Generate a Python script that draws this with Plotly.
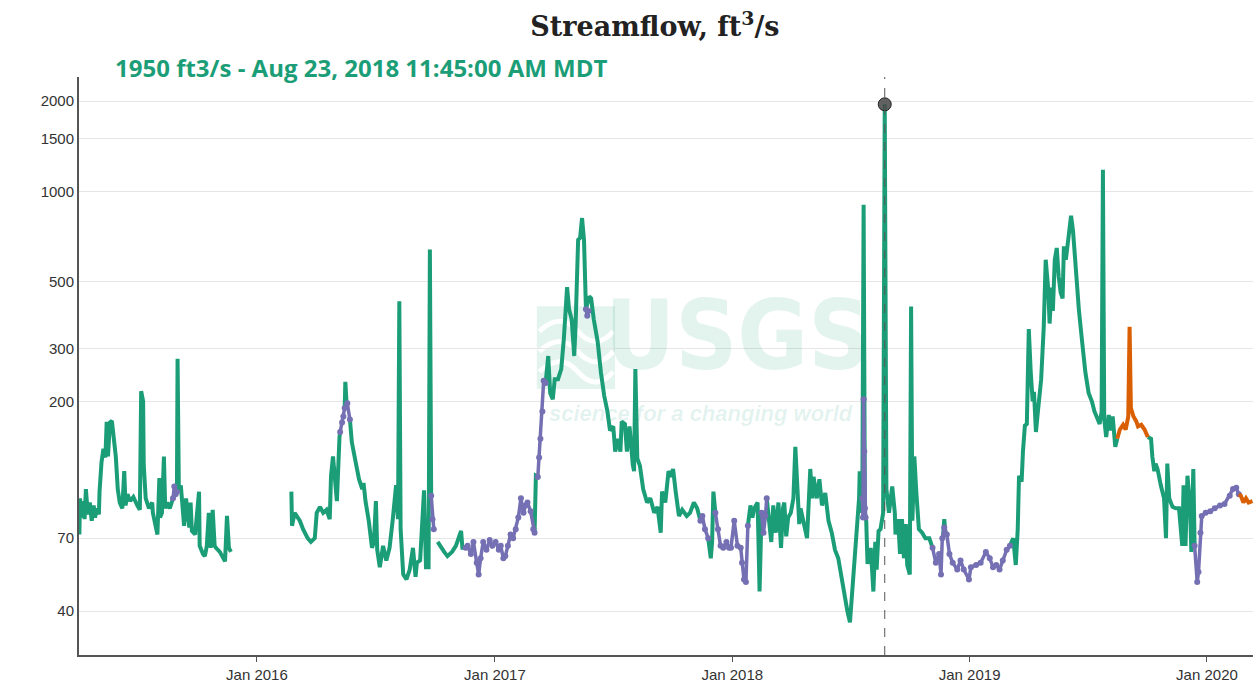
import plotly.graph_objects as go

# ---------------- data ----------------
# Discharge, ft3/s ; None marks a break in the line
green_2015 = [
    ("2015-04-03", 72), ("2015-04-04", 95), ("2015-04-06", 82), ("2015-04-08", 93), ("2015-04-11", 81),
    ("2015-04-13", 102), ("2015-04-16", 84), ("2015-04-19", 92), ("2015-04-22", 80), ("2015-04-25", 90),
    ("2015-04-27", 82), ("2015-04-30", 88), ("2015-05-03", 84),
    ("2015-05-04", 100), ("2015-05-07", 125), ("2015-05-10", 139), ("2015-05-13", 130), ("2015-05-15", 171),
    ("2015-05-17", 131), ("2015-05-20", 170), ("2015-05-23", 172), ("2015-05-26", 150), ("2015-05-29", 131),
    ("2015-06-01", 102), ("2015-06-04", 92), ("2015-06-08", 88), ("2015-06-11", 117), ("2015-06-13", 90),
    ("2015-06-16", 98), ("2015-06-20", 93), ("2015-06-25", 96), ("2015-07-01", 90), ("2015-07-05", 87),
    ("2015-07-07", 216), ("2015-07-10", 200), ("2015-07-11", 122), ("2015-07-14", 95), ("2015-07-19", 88),
    ("2015-07-24", 92), ("2015-07-25", 85), ("2015-07-28", 78), ("2015-08-01", 72), ("2015-08-04", 111),
    ("2015-08-05", 82), ("2015-08-08", 85), ("2015-08-11", 131), ("2015-08-13", 88), ("2015-08-16", 92),
    ("2015-08-20", 88), ("2015-08-25", 95), ("2015-08-27", None), ("2015-08-31", 100), ("2015-09-01", 277),
    ("2015-09-03", 100), ("2015-09-06", 105), ("2015-09-11", 77), ("2015-09-14", 95), ("2015-09-19", 76),
    ("2015-09-21", 92), ("2015-09-23", 74), ("2015-09-28", 72), ("2015-10-04", 100), ("2015-10-05", 66),
    ("2015-10-10", 62), ("2015-10-13", 61), ("2015-10-16", 66), ("2015-10-19", 85), ("2015-10-22", 65),
    ("2015-10-25", 87), ("2015-10-28", 66), ("2015-10-30", 65), ("2015-11-05", 63), ("2015-11-10", 60),
    ("2015-11-13", 58.6), ("2015-11-16", 83), ("2015-11-19", 65), ("2015-11-22", 63),
    ("2016-01-01", None),
]

green_2016 = [
    ("2016-02-23", 100), ("2016-02-24", 77), ("2016-02-28", 85), ("2016-03-03", 82), ("2016-03-07", 80),
    ("2016-03-12", 75), ("2016-03-19", 70), ("2016-03-24", 68), ("2016-03-30", 70), ("2016-04-02", 85),
    ("2016-04-07", 89), ("2016-04-12", 85), ("2016-04-17", 87), ("2016-04-22", 81), ("2016-04-24", 113),
    ("2016-04-27", 131), ("2016-05-01", 97), ("2016-05-03", 93), ("2016-05-07", 152), ("2016-05-08", 158),
    ("2016-05-10", None), ("2016-05-15", 190), ("2016-05-16", 232), ("2016-05-18", 195), ("2016-05-20", None),
    ("2016-05-23", 174), ("2016-05-26", 146), ("2016-06-01", 125), ("2016-06-06", 110), ("2016-06-11", 102),
    ("2016-06-13", 107), ("2016-06-16", 93), ("2016-06-21", 80), ("2016-06-26", 65), ("2016-06-29", 68),
    ("2016-07-02", 93), ("2016-07-04", 64), ("2016-07-08", 56), ("2016-07-13", 66), ("2016-07-18", 59),
    ("2016-07-23", 65), ("2016-07-28", 81), ("2016-08-02", 105), ("2016-08-05", 81), ("2016-08-07", 431),
    ("2016-08-09", 75), ("2016-08-13", 53), ("2016-08-18", 51), ("2016-08-23", 55), ("2016-08-28", 65),
    ("2016-09-01", 52), ("2016-09-03", 58), ("2016-09-08", 59), ("2016-09-14", 101), ("2016-09-17", 56),
    ("2016-09-21", 56), ("2016-09-23", 640), ("2016-09-25", 97), ("2016-09-27", None), ("2016-10-05", 68),
    ("2016-10-10", 65), ("2016-10-15", 63), ("2016-10-20", 61), ("2016-10-27", 63), ("2016-11-02", 66),
    ("2016-11-10", 74), ("2016-11-12", 65), ("2016-11-17", 65), ("2016-11-20", None),
]

green_2017 = [
    ("2017-03-03", 73), ("2017-03-05", 113), ("2017-03-08", 112), ("2017-03-10", None), ("2017-03-20", 230),
    ("2017-03-24", 283), ("2017-03-27", 213), ("2017-03-31", 203), ("2017-04-03", 237), ("2017-04-08", 237),
    ("2017-04-13", 256), ("2017-04-17", 323), ("2017-04-22", 480), ("2017-04-25", 405), ("2017-04-29", 375),
    ("2017-05-03", 283), ("2017-05-05", 354), ("2017-05-09", 690), ("2017-05-12", 700), ("2017-05-15", 815),
    ("2017-05-18", 690), ("2017-05-21", 405), ("2017-05-26", 447), ("2017-05-29", 440), ("2017-06-02", 375),
    ("2017-06-08", 316), ("2017-06-13", 250), ("2017-06-18", 209), ("2017-06-23", 185), ("2017-06-27", 160),
    ("2017-07-02", 165), ("2017-07-05", 136), ("2017-07-09", 150), ("2017-07-13", 136), ("2017-07-15", 171),
    ("2017-07-20", 168), ("2017-07-23", 136), ("2017-07-27", 165), ("2017-08-01", 123), ("2017-08-03", 117),
    ("2017-08-05", 256), ("2017-08-08", 129), ("2017-08-12", 122), ("2017-08-17", 102), ("2017-08-23", 92),
    ("2017-08-28", 95), ("2017-09-03", 85), ("2017-09-08", 89), ("2017-09-13", 73), ("2017-09-15", 100),
    ("2017-09-20", 92), ("2017-09-25", 117), ("2017-09-29", 112), ("2017-10-02", 119), ("2017-10-06", 100),
    ("2017-10-11", 83), ("2017-10-16", 87), ("2017-10-23", 83), ("2017-10-28", 85), ("2017-11-03", 92),
    ("2017-11-08", 88), ("2017-11-13", 80), ("2017-11-15", None), ("2017-11-25", 70), ("2017-11-29", 60),
    ("2017-12-01", 68), ("2017-12-03", 100), ("2017-12-06", 85), ("2017-12-08", None),
]

green_2018 = [
    ("2018-01-25", 77), ("2018-01-29", 90), ("2018-02-01", 82), ("2018-02-04", 88), ("2018-02-09", 92),
    ("2018-02-12", 46.5), ("2018-02-15", 85), ("2018-02-17", None), ("2018-02-23", 95), ("2018-03-02", 68),
    ("2018-03-05", 90), ("2018-03-09", 73), ("2018-03-13", 92), ("2018-03-15", 70), ("2018-03-17", 65),
    ("2018-03-20", 88), ("2018-03-22", 92), ("2018-03-25", 71), ("2018-03-28", 82),
    ("2018-04-01", 85), ("2018-04-05", 95), ("2018-04-08", 141), ("2018-04-11", 95), ("2018-04-14", 78),
    ("2018-04-16", 88), ("2018-04-21", 77), ("2018-04-26", 70), ("2018-05-01", 119), ("2018-05-04", 95),
    ("2018-05-06", 112), ("2018-05-11", 95), ("2018-05-15", 110), ("2018-05-19", 90), ("2018-05-24", 99),
    ("2018-05-29", 80), ("2018-06-03", 73), ("2018-06-08", 64), ("2018-06-13", 60), ("2018-06-18", 51),
    ("2018-06-23", 44), ("2018-06-27", 40), ("2018-07-01", 36.7), ("2018-07-04", 45), ("2018-07-08", 58),
    ("2018-07-11", 75), ("2018-07-15", 95), ("2018-07-16", 117), ("2018-07-18", 85), ("2018-07-20", 95),
    ("2018-07-22", 903), ("2018-07-24", 85),
    ("2018-07-26", 80), ("2018-07-28", 57.5), ("2018-08-02", 65), ("2018-08-06", 46.5), ("2018-08-09", 68),
    ("2018-08-11", 55), ("2018-08-14", 74), ("2018-08-17", 75), ("2018-08-21", 85), ("2018-08-23 11:45", 1950),
    ("2018-08-26", 102), ("2018-08-30", 85), ("2018-09-04", 104), ("2018-09-08", 85), ("2018-09-09", 72),
    ("2018-09-13", 81), ("2018-09-16", 62), ("2018-09-19", 81), ("2018-09-22", 60), ("2018-09-25", 78),
    ("2018-09-27", 57), ("2018-10-01", 53), ("2018-10-03", 414), ("2018-10-05", 80), ("2018-10-08", 131),
    ("2018-10-11", 100), ("2018-10-15", 75), ("2018-10-20", 73), ("2018-10-25", 70), ("2018-10-31", 70),
    ("2018-11-05", 65), ("2018-11-07", None), ("2018-11-21", 70), ("2018-11-23", 81), ("2018-11-25", 72),
    ("2018-11-27", None),
]

green_2019 = [
    ("2019-03-04", 66), ("2019-03-09", 70), ("2019-03-13", 57), ("2019-03-16", 75), ("2019-03-18", 113),
    ("2019-03-22", 108), ("2019-03-24", 136), ("2019-03-27", 166), ("2019-03-30", 168), ("2019-04-02", 348),
    ("2019-04-05", 250), ("2019-04-08", 200), ("2019-04-10", 215), ("2019-04-13", 158), ("2019-04-16", 185),
    ("2019-04-21", 236), ("2019-04-25", 354), ("2019-04-28", 592), ("2019-05-02", 470), ("2019-05-04", 363),
    ("2019-05-07", 478), ("2019-05-09", 400), ("2019-05-12", 592), ("2019-05-15", 648), ("2019-05-18", 520),
    ("2019-05-21", 460), ("2019-05-24", 440), ("2019-05-26", 656), ("2019-05-29", 592), ("2019-06-03", 765),
    ("2019-06-06", 830), ("2019-06-09", 740), ("2019-06-13", 550), ("2019-06-18", 404), ("2019-06-23", 316),
    ("2019-06-28", 250), ("2019-07-03", 213), ("2019-07-08", 200), ("2019-07-12", 185), ("2019-07-16", 175),
    ("2019-07-20", 168), ("2019-07-23", 185), ("2019-07-25", 1180), ("2019-07-27", 175), ("2019-07-30", 152),
    ("2019-08-03", 180), ("2019-08-05", 160), ("2019-08-09", 178), ("2019-08-13", 141), ("2019-08-16", 150),
    ("2019-08-18", None), ("2019-10-02", 152), ("2019-10-07", 150), ("2019-10-09", 131), ("2019-10-12", 117),
    ("2019-10-14", 124), ("2019-10-17", 119), ("2019-10-22", 105), ("2019-10-27", 95), ("2019-10-30", 70),
    ("2019-11-01", 124), ("2019-11-04", 95), ("2019-11-09", 89), ("2019-11-14", 88), ("2019-11-19", 88),
    ("2019-11-24", 66), ("2019-11-26", 105), ("2019-11-29", 66), ("2019-12-02", 113), ("2019-12-06", 89),
    ("2019-12-08", 63), ("2019-12-11", 119), ("2019-12-13", 66),
]

# estimated values (purple)
purple_flow = [
    ("2015-08-25", 95), ("2015-08-27", 104), ("2015-08-29", 98), ("2015-08-31", 100), ("2015-09-02", None),
    ("2016-05-08", 158), ("2016-05-11", 170), ("2016-05-13", 178), ("2016-05-15", 190), ("2016-05-19", 197),
    ("2016-05-23", 174), ("2016-05-25", None),
    ("2016-09-25", 97), ("2016-09-27", 81), ("2016-09-29", 75), ("2016-10-01", None),
    ("2016-11-17", 65), ("2016-11-20", 66), ("2016-11-25", 62), ("2016-11-29", 68), ("2016-12-04", 58),
    ("2016-12-07", 53), ("2016-12-10", 60), ("2016-12-14", 68), ("2016-12-19", 64), ("2016-12-24", 69),
    ("2016-12-28", 66), ("2017-01-02", 68), ("2017-01-07", 64), ("2017-01-10", 66), ("2017-01-14", 60),
    ("2017-01-17", 61), ("2017-01-21", 66), ("2017-01-25", 72), ("2017-01-29", 70), ("2017-02-02", 75),
    ("2017-02-06", 82), ("2017-02-10", 95), ("2017-02-14", 85), ("2017-02-17", 90), ("2017-02-20", 92),
    ("2017-02-25", 86), ("2017-03-01", 75), ("2017-03-03", 73), ("2017-03-05", None),
    ("2017-03-08", 112), ("2017-03-10", 130), ("2017-03-12", 150), ("2017-03-15", 185), ("2017-03-17", 234),
    ("2017-03-20", 230), ("2017-03-22", None),
    ("2017-05-21", 405), ("2017-05-23", 385), ("2017-05-25", 400), ("2017-05-27", None),
    ("2017-11-13", 80), ("2017-11-16", 83), ("2017-11-20", 75), ("2017-11-25", 70), ("2017-11-27", None),
    ("2017-12-06", 85), ("2017-12-10", 75), ("2017-12-14", 66), ("2017-12-18", 65), ("2017-12-23", 68),
    ("2017-12-27", 65), ("2017-12-30", 65), ("2018-01-04", 80), ("2018-01-09", 66), ("2018-01-14", 65),
    ("2018-01-16", 58), ("2018-01-19", 51), ("2018-01-22", 50), ("2018-01-25", 77), ("2018-01-27", None),
    ("2018-02-15", 85), ("2018-02-18", 73), ("2018-02-21", 83), ("2018-02-23", 95), ("2018-02-25", None),
    ("2018-07-20", 95), ("2018-07-21", 82), ("2018-07-22", 203), ("2018-07-23", 136), ("2018-07-24", 88),
    ("2018-07-25", 82), ("2018-07-27", None),
    ("2018-11-05", 65), ("2018-11-10", 58), ("2018-11-15", 62), ("2018-11-18", 53), ("2018-11-20", 70),
    ("2018-11-23", 76), ("2018-11-27", 72), ("2018-12-01", 62), ("2018-12-06", 58), ("2018-12-13", 55),
    ("2018-12-18", 59), ("2018-12-23", 55), ("2018-12-31", 51), ("2019-01-03", 56), ("2019-01-11", 57),
    ("2019-01-18", 58), ("2019-01-26", 63), ("2019-02-01", 60), ("2019-02-06", 56), ("2019-02-11", 57),
    ("2019-02-16", 55), ("2019-02-21", 59), ("2019-02-27", 64), ("2019-03-04", 66), ("2019-03-06", None),
    ("2019-12-13", 66), ("2019-12-17", 50), ("2019-12-19", 54), ("2019-12-22", 73), ("2019-12-24", 83),
    ("2019-12-30", 85), ("2020-01-06", 86), ("2020-01-13", 88), ("2020-01-21", 90), ("2020-01-28", 91),
    ("2020-02-05", 97), ("2020-02-10", 102), ("2020-02-15", 103), ("2020-02-19", 98),
]

# provisional values (orange)
orange_flow = [
    ("2019-08-16", 150), ("2019-08-20", 161), ("2019-08-25", 167), ("2019-08-29", 161), ("2019-09-02", 178),
    ("2019-09-04", 354), ("2019-09-06", 190), ("2019-09-10", 178), ("2019-09-14", 172), ("2019-09-17", 165),
    ("2019-09-22", 167), ("2019-09-27", 161), ("2019-10-02", 152), ("2019-10-04", None),
    ("2020-02-19", 98), ("2020-02-22", 97), ("2020-02-26", 92), ("2020-03-01", 95), ("2020-03-05", 92),
    ("2020-03-11", 93),
]

selected_time = "2018-08-23 11:45"
selected_value = 1950
selected_label = "1950 ft3/s - Aug 23, 2018 11:45:00 AM MDT"

y_tick_values = [40, 70, 200, 300, 500, 1000, 1500, 2000]
x_tick_values = ["2016-01-01", "2017-01-01", "2018-01-01", "2019-01-01", "2020-01-01"]
x_tick_labels = ["Jan 2016", "Jan 2017", "Jan 2018", "Jan 2019", "Jan 2020"]

GREEN = "#1b9e77"
PURPLE = "#7570b3"
ORANGE = "#d95f02"

green_flow = green_2015 + green_2016 + green_2017 + green_2018 + green_2019


def split(pairs):
    return [p[0] for p in pairs], [p[1] for p in pairs]


fig = go.Figure()

gx, gy = split(green_flow)
fig.add_trace(go.Scatter(x=gx, y=gy, mode="lines", line=dict(color=GREEN, width=4),
                         connectgaps=False, hoverinfo="x+y", showlegend=False))

px_, py_ = split(purple_flow)
fig.add_trace(go.Scatter(x=px_, y=py_, mode="lines+markers", line=dict(color=PURPLE, width=3.5),
                         marker=dict(color=PURPLE, size=6), connectgaps=False, showlegend=False))

ox, oy = split(orange_flow)
fig.add_trace(go.Scatter(x=ox, y=oy, mode="lines", line=dict(color=ORANGE, width=4),
                         connectgaps=False, showlegend=False))

fig.add_trace(go.Scatter(x=[selected_time], y=[selected_value], mode="markers",
                         marker=dict(color="rgba(70,70,70,0.85)", size=13,
                                     line=dict(color="#222222", width=1)),
                         showlegend=False))

fig.add_shape(type="line", xref="x", yref="paper", x0=selected_time, x1=selected_time,
              y0=0, y1=1, line=dict(color="#555555", width=1, dash="dash"), layer="above")

# USGS watermark
WM = "rgba(27,158,119,0.12)"
fig.add_shape(type="rect", xref="paper", yref="paper", x0=0.390, x1=0.4566, y0=0.4603, y1=0.6034,
              fillcolor=WM, line=dict(width=0), layer="below")
for yy in (0.49, 0.525, 0.56):
    fig.add_shape(type="path", xref="paper", yref="paper",
                  path=f"M 0.392 {yy} Q 0.41 {yy + 0.035} 0.425 {yy} T 0.455 {yy}",
                  line=dict(color="white", width=5), layer="below")
fig.add_annotation(text="<b>USGS</b>", xref="paper", yref="paper", x=0.561, y=0.552,
                   showarrow=False,
                   font=dict(family="Liberation Sans Narrow, DejaVu Sans Condensed, Arial Narrow, sans-serif",
                             size=96, color=WM))
fig.add_annotation(text="<b><i>science for a changing world</i></b>", xref="paper", yref="paper",
                   x=0.530, y=0.418, showarrow=False,
                   font=dict(family="Liberation Sans, Arial, sans-serif", size=22, color=WM))

fig.add_annotation(text="<b>" + selected_label + "</b>", xref="paper", yref="paper",
                   x=0.029, y=1.0172, xanchor="left", yanchor="middle", showarrow=False,
                   font=dict(family="Open Sans, sans-serif", size=24, color=GREEN))

fig.update_layout(
    width=1253, height=683,
    margin=dict(l=79, r=0, t=77, b=26, pad=0),
    paper_bgcolor="white", plot_bgcolor="white",
    title=dict(text="<b>Streamflow, ft<sup>3</sup>/s</b>", xref="container", yref="container",
               x=0.5227, y=0.9605, xanchor="center", yanchor="middle",
               font=dict(family="DejaVu Serif, serif", size=27, color="#222222")),
    xaxis=dict(type="date", range=["2015-04-02 10:00", "2020-03-11 19:00"],
               tickvals=x_tick_values, ticktext=x_tick_labels,
               ticks="outside", ticklen=5, tickcolor="#555555",
               showgrid=False, showline=True, linecolor="#555555", linewidth=2, zeroline=False,
               tickfont=dict(family="Liberation Sans, Arial, sans-serif", size=15, color="#333333")),
    yaxis=dict(type="log", range=[1.456, 3.381], tickvals=y_tick_values,
               ticktext=[str(v) for v in y_tick_values],
               showgrid=True, gridcolor="#e6e6e6", gridwidth=1,
               showline=True, linecolor="#555555", linewidth=2, zeroline=False, ticks="",
               tickfont=dict(family="Liberation Sans, Arial, sans-serif", size=15, color="#333333")),
    hovermode="closest",
)

fig.write_html("out.html")
